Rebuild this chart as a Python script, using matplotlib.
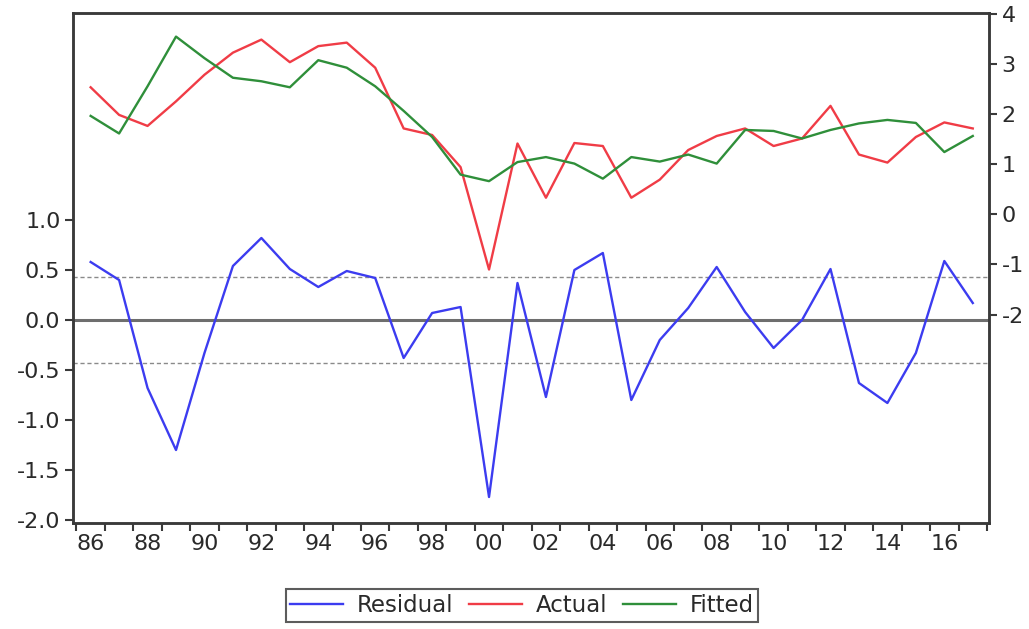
import matplotlib
matplotlib.use("Agg")
import matplotlib.pyplot as plt
from matplotlib.lines import Line2D
import numpy as np

plt.rcParams['font.family'] = ['DejaVu Sans']
plt.rcParams['axes.unicode_minus'] = False

years = list(range(1986, 2018))
residual = [0.58, 0.40, -0.68, -1.30, -0.33, 0.54, 0.82, 0.51, 0.33, 0.49, 0.42, -0.38,
            0.07, 0.13, -1.77, 0.37, -0.77, 0.50, 0.67, -0.80, -0.20, 0.12, 0.53, 0.08,
            -0.28, 0.00, 0.51, -0.63, -0.83, -0.33, 0.59, 0.17]
actual = [2.53, 1.98, 1.76, 2.25, 2.78, 3.22, 3.48, 3.03, 3.35, 3.42, 2.92, 1.71,
          1.58, 0.94, -1.10, 1.41, 0.33, 1.42, 1.36, 0.33, 0.69, 1.28, 1.56, 1.71,
          1.36, 1.51, 2.16, 1.19, 1.03, 1.54, 1.83, 1.71]
fitted = [1.96, 1.61, 2.55, 3.54, 3.11, 2.72, 2.65, 2.53, 3.07, 2.92, 2.55, 2.06,
          1.54, 0.79, 0.66, 1.04, 1.14, 1.01, 0.71, 1.14, 1.05, 1.19, 1.01, 1.68,
          1.66, 1.51, 1.68, 1.81, 1.88, 1.82, 1.24, 1.56]
se_band = 0.43
left_ticks = [-2.0, -1.5, -1.0, -0.5, 0.0, 0.5, 1.0]
right_ticks = [-2, -1, 0, 1, 2, 3, 4]
label_years = list(range(1986, 2018, 2))

x = np.array(years) + 0.5

fig = plt.figure(figsize=(10.29, 6.29), dpi=100)
ax = fig.add_axes([73/1029, 1-523/629, (989-73)/1029, (523-13)/629])
ax2 = ax.twinx()

c_blue = '#3c3cf0'
c_red = '#f03c46'
c_green = '#2f8f3a'
frame_c = '#3a3a3a'
text_c = '#2a2a2a'
fs = 16

ax.axhline(0, color='#6e6e6e', lw=2.2, zorder=1)
ax.axhline(se_band, color='#8a8a8a', lw=1.0, ls=(0, (3, 2)), zorder=1)
ax.axhline(-se_band, color='#8a8a8a', lw=1.0, ls=(0, (3, 2)), zorder=1)
ax.plot(x, residual, color=c_blue, lw=1.7, zorder=3)
ax2.plot(x, actual, color=c_red, lw=1.7)
ax2.plot(x, fitted, color=c_green, lw=1.7)

ax.set_xlim(1985.88, 2018.07)
ax.set_ylim(-2.03, 3.07)
ax2.set_ylim(-6.15, 4.01)

ax.set_xticks([y + 0.5 for y in label_years])
ax.set_xticklabels([f"{y % 100:02d}" for y in label_years])
ax.set_xticks(list(range(1986, 2019)), minor=True)
ax.tick_params(axis='x', which='major', length=0, pad=8, labelsize=fs, colors=text_c)
ax.tick_params(axis='x', which='minor', length=6, width=1.5, color=frame_c, direction='out')

ax.set_yticks(left_ticks)
ax.set_yticklabels([f"{v:.1f}" for v in left_ticks])
ax.tick_params(axis='y', length=6, width=1.5, color=frame_c, labelsize=fs, labelcolor=text_c, pad=3)
ax2.set_yticks(right_ticks)
ax2.set_yticklabels([str(v) for v in right_ticks])
ax2.tick_params(axis='y', length=6, width=1.5, color=frame_c, labelsize=fs, labelcolor=text_c, pad=3)

for a in (ax, ax2):
    for s in a.spines.values():
        s.set_color(frame_c)
        s.set_linewidth(1.8)

handles = [Line2D([], [], color=c_blue, lw=1.7),
           Line2D([], [], color=c_red, lw=1.7),
           Line2D([], [], color=c_green, lw=1.7)]
leg = fig.legend(handles, ['Residual', 'Actual', 'Fitted'], loc='center',
                 bbox_to_anchor=(522/1029, 1-605.5/629), ncol=3, fontsize=16.5,
                 frameon=True, fancybox=False, handlelength=2.3, handletextpad=0.6,
                 columnspacing=0.7, borderpad=0.2, borderaxespad=0)
leg.get_frame().set_edgecolor('#333333')
leg.get_frame().set_linewidth(1.5)
for t in leg.get_texts():
    t.set_color(text_c)

fig.savefig('out.png', dpi=100)
